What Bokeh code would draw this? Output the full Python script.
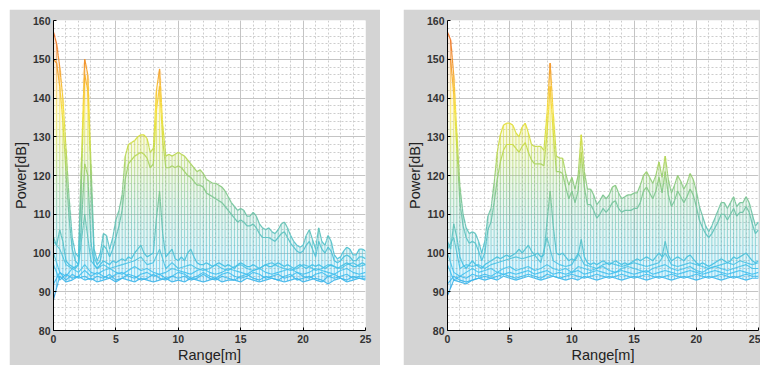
import numpy as np
from bokeh.plotting import figure
from bokeh.layouts import row, column
from bokeh.models import SingleIntervalTicker, Range1d, ColumnDataSource, Spacer
from bokeh.embed import file_html
from bokeh.resources import INLINE

# ---------------- data ----------------
range_fine = np.arange(0, 25.0001, 0.25)    # 101 samples [m]
range_coarse = np.arange(0, 25.0001, 0.5)   # 51 samples [m]

# left panel
p1_top1 = [157, 154, 148, 140, 127, 114, 104, 100, 99, 125,
           150, 146, 123, 101, 98, 100, 105, 104.5, 101, 104,
           108.5, 111, 115, 125, 128, 128.5, 129, 130, 130.5, 130.5,
           129.5, 126, 127, 142, 147.5, 133, 125, 125.5, 125, 125.5,
           126, 125.5, 125, 124, 123, 122, 121, 121.5, 120.5, 119,
           118.5, 118, 118, 117.5, 117, 116, 114.5, 113, 112, 111,
           111.5, 111, 109.5, 109.5, 110.5, 109.5, 107.5, 106.5, 106, 106.5,
           105.5, 105, 106, 107.5, 108, 106.5, 104.5, 103, 102, 101.5,
           102, 104.5, 106, 103.5, 101, 106.5, 103, 102, 104.5, 103,
           99.5, 98.5, 99, 100.5, 101.5, 101, 99.5, 99.5, 101, 101,
           100.5]
p1_top2 = [150, 149, 143, 134, 121, 109, 101, 98, 97, 120,
           146, 142, 119, 99, 97, 98, 102, 101, 99, 101,
           104, 107, 111, 119, 123, 124, 125, 125.5, 126, 125.5,
           124.5, 122, 123, 137, 143, 129, 122, 122, 122.5, 122,
           122.5, 122, 121, 120, 119.5, 118.5, 117.5, 117.5, 117, 115.5,
           115, 114.5, 114, 113.5, 113, 112, 111, 110, 109, 108,
           108.5, 108, 107, 107, 107.5, 106.5, 105, 104, 104, 104,
           103.5, 103, 104, 105, 105.5, 104, 102.5, 101.5, 100.5, 100,
           100.5, 102, 103, 101, 99, 103, 101, 100, 101.5, 100.5,
           98, 97.5, 98, 99, 99.5, 99, 98, 98, 99, 99,
           98.5]
p1_mid = [104, 102, 106, 103, 98, 97, 96.5, 96, 97, 108,
          123, 120, 103, 97, 96, 97, 98, 97.5, 97, 98,
          97.5, 98, 98.5, 98, 99, 98.5, 100, 101, 102, 100,
          99, 99.5, 100, 109, 116, 105, 99, 100, 101, 98.5,
          98, 99, 98, 100, 101, 99, 97.5, 97, 97, 97.5,
          97, 96.5, 97, 97.5, 97, 96.5, 97, 96.5, 96, 97,
          97.5, 97, 96.5, 96.5, 97, 96.5, 96, 96.5, 97, 96.5,
          96.5, 97, 97.5, 97, 96.5, 97, 96.5, 96, 96.5, 97,
          96.5, 96, 96.5, 97, 96.5, 97, 96.5, 96, 96.5, 97,
          96.5, 96, 96.5, 97, 97.5, 97, 96.5, 96.5, 97, 97.5,
          97]
p1_n1 = [103, 101, 97, 96, 97, 110, 98, 96, 97, 96,
         96.5, 97, 97.5, 98, 99, 97, 97.5, 101, 96, 97.5,
         96, 96.5, 97, 96, 95.5, 96, 97, 96, 95.5, 96.5,
         97, 96, 95.5, 96, 97, 97.5, 96.5, 96, 95.5, 96,
         97, 96.5, 95.5, 96, 97, 96.5, 96, 97, 97.5, 96.5,
         97]
p1_n2 = [100, 95, 94, 96, 95, 97, 95, 94.5, 95.5, 96,
         95, 94.5, 95.5, 96.5, 95.5, 96, 95, 94.5, 95, 96,
         95.5, 95, 94.5, 95.5, 96, 95, 94.5, 95, 96, 95.5,
         95, 94.5, 95.5, 96, 95, 94.5, 95, 95.5, 96, 95,
         94.5, 95, 96, 95.5, 95, 94.5, 95.5, 96, 95, 94.5,
         95]
p1_n3 = [97, 93, 94.5, 93.5, 94, 95.5, 94, 95, 94, 93.5,
         94.5, 95, 94, 93.5, 94.5, 95, 94, 94.5, 93.5, 94,
         95, 94.5, 93.5, 94, 95, 94, 93.5, 94.5, 95, 94,
         93.5, 94, 95, 94.5, 93.5, 94, 94.5, 93.5, 94, 95,
         94, 93.5, 94.5, 95, 94, 93.5, 94, 94.5, 93.5, 94,
         94]
p1_n4 = [92, 95, 93, 94.5, 93.5, 94, 93, 94, 93.5, 94.5,
         93, 93.5, 94.5, 94, 93, 93.5, 94.5, 93.5, 93, 94,
         93.5, 94, 93, 93.5, 94.5, 93.5, 93, 94, 93.5, 93,
         94, 94.5, 93.5, 93, 94, 93.5, 93, 94, 94.5, 93,
         93.5, 94, 93, 92.5, 94, 94.5, 93.5, 93, 94, 93.5,
         93.5]
p1_n5 = [88, 94, 92.5, 93, 94, 93, 93.5, 92.5, 93, 93.5,
         92.5, 93.5, 93, 92.5, 93.5, 93, 92.5, 93, 93.5, 92.5,
         93, 92.5, 93.5, 93, 92.5, 93, 93.5, 92.5, 93, 93,
         92.5, 93.5, 93, 92.5, 93, 93.5, 93, 92.5, 93, 93.5,
         92.5, 93, 93.5, 93, 92, 93, 93.5, 92.5, 93, 93.5,
         93]

# right panel
p2_top1 = [157, 155, 146, 131, 117, 110, 106.5, 105, 105.5, 105,
           103, 100, 103, 109.5, 111.5, 118, 126, 130.5, 133, 133.5,
           133.5, 133, 131, 130, 132.5, 133.5, 131, 128, 127.5, 127.5,
           127.5, 126.5, 136, 149, 136, 125, 124.5, 124.5, 120.5, 117.5,
           119.5, 116.5, 120, 130.5, 121, 116.5, 116.5, 115, 112.5, 113.5,
           115, 114, 115, 117, 117.5, 115.5, 114, 114.5, 115, 115,
           115.5, 115.5, 117.5, 120, 121, 119.5, 118, 120, 123.5, 119.5,
           125, 119, 115.5, 117.5, 120, 118.5, 116.5, 118, 120.5, 119,
           116, 112, 109.5, 107, 105.5, 107, 109, 111, 113, 113,
           111.5, 113, 114.5, 112, 113, 113, 114.5, 113, 110, 107,
           108]
p2_top2 = [150, 150, 141, 127, 113, 107, 104, 102.5, 103, 102.5,
           100.5, 98, 100, 106, 108, 113, 119, 123.5, 126.5, 128,
           128, 128, 127, 126, 127.5, 128.5, 126, 124, 123, 123,
           123, 122.5, 131, 143, 131, 121, 121, 120.5, 117, 114,
           116, 113, 116, 126, 117, 112.5, 112.5, 111, 109, 110,
           111.5, 110.5, 111.5, 113, 113.5, 111.5, 110.5, 111, 111, 111,
           111.5, 111.5, 113, 116, 117, 115.5, 114, 116, 119.5, 115.5,
           121, 115, 112, 113.5, 116, 114.5, 113, 114.5, 116.5, 115,
           112, 108.5, 106.5, 105, 104, 105, 106.5, 108, 110, 110,
           108.5, 110, 111.5, 109.5, 110.5, 110.5, 112, 110.5, 107.5, 105,
           106]
p2_mid = [103, 101, 107.5, 104, 99, 97, 96, 97, 98, 97,
          96.5, 96, 97, 97.5, 98, 98.5, 99, 98.5, 99, 99.5,
          99, 99.5, 100, 101, 100, 101, 102, 100.5, 99.5, 100,
          99, 99.5, 108, 116, 107, 100, 99.5, 100, 99, 98,
          98.5, 98, 99.5, 103.5, 99, 97.5, 97, 97.5, 97, 97.5,
          98, 97.5, 97, 97.5, 98, 97.5, 97, 97.5, 97, 97.5,
          98, 98.5, 98, 98.5, 99, 98.5, 98, 99, 100, 99,
          103, 99.5, 98, 98.5, 99, 98.5, 98, 99, 99.5, 98.5,
          97.5, 97, 97.5, 97, 96.5, 97, 97.5, 98, 98.5, 98,
          97.5, 98, 99, 98.5, 99, 99.5, 100, 99, 98, 97.5,
          98]
p2_n1 = [101, 104, 96, 97, 96.5, 97, 96, 97, 97.5, 98,
         98.5, 99, 98.5, 99, 99.5, 97.5, 104, 98, 97, 96.5,
         97, 100, 97, 96.5, 96, 97, 97.5, 97, 96.5, 97,
         97.5, 97, 96.5, 97, 97.5, 100, 97, 96.5, 97, 97.5,
         97, 96.5, 96, 96.5, 97, 97.5, 97, 98, 97.5, 97,
         97.5]
p2_n2 = [100, 95, 94, 95, 96, 95, 95.5, 96, 95, 96,
         96.5, 95.5, 96, 96.5, 95.5, 96, 97, 96, 95.5, 96,
         95, 96.5, 96, 95.5, 96, 96.5, 95.5, 95, 96, 96.5,
         96, 95.5, 95, 96, 96.5, 97, 96, 95.5, 96, 96.5,
         95.5, 95, 96, 96.5, 96, 95.5, 96, 96.5, 97, 96,
         96]
p2_n3 = [97, 93, 94, 93.5, 94.5, 94, 94.5, 94, 95, 94.5,
         95, 94.5, 95, 95.5, 94.5, 95, 95.5, 94.5, 95, 94.5,
         95, 95.5, 94.5, 95, 95.5, 95, 94.5, 95, 95.5, 95,
         94.5, 95, 95.5, 94.5, 95, 95.5, 95, 94.5, 95, 95.5,
         95, 94.5, 95, 95.5, 95, 94.5, 95, 95.5, 95, 94.5,
         95]
p2_n4 = [92, 94, 93, 92.5, 93, 93.5, 94, 93.5, 94, 94.5,
         94, 93.5, 94, 94.5, 94, 93.5, 94.5, 94, 93.5, 94,
         94.5, 94, 93.5, 94, 94.5, 94, 93.5, 94, 94.5, 94,
         93.5, 94, 94.5, 94, 93.5, 94, 94.5, 94, 93.5, 94,
         94.5, 94, 93.5, 94, 94.5, 94, 93.5, 94, 94.5, 94,
         94]
p2_n5 = [89, 93, 92.5, 92, 93, 93.5, 93, 93.5, 93, 94,
         93.5, 93, 93.5, 94, 93.5, 93, 93.5, 94, 93.5, 93,
         93.5, 93, 94, 93.5, 93, 93.5, 94, 93.5, 93, 93.5,
         94, 93.5, 93, 93.5, 94, 93.5, 93, 93.5, 94, 93.5,
         93, 93.5, 94, 93.5, 93, 93.5, 94, 93.5, 93, 93.5,
         93.5]

x_tick_step = 5
y_tick_step = 10
x_label = "Range[m]"
y_label = "Power[dB]"

# ---------------- styling helpers ----------------
ANCHORS = [(86, (30, 110, 195)), (91, (50, 170, 230)), (95, (64, 192, 238)),
           (100, (80, 194, 214)), (106, (98, 194, 186)), (112, (116, 196, 160)),
           (118, (140, 202, 126)), (124, (178, 214, 92)), (130, (214, 222, 62)),
           (137, (246, 224, 60)), (143, (248, 190, 50)), (149, (242, 148, 44)),
           (155, (238, 118, 40)), (162, (228, 90, 32))]
A_V = np.array([a[0] for a in ANCHORS], float)
A_C = np.array([a[1] for a in ANCHORS], float)


def cmap(v):
    r = np.interp(v, A_V, A_C[:, 0])
    g = np.interp(v, A_V, A_C[:, 1])
    b = np.interp(v, A_V, A_C[:, 2])
    return "#%02x%02x%02x" % (int(r), int(g), int(b))


def curve_segments(xs, ys, max_dy=1.5):
    d = dict(x0=[], y0=[], x1=[], y1=[], c=[])
    for i in range(len(xs) - 1):
        xa, xb, ya, yb = xs[i], xs[i + 1], ys[i], ys[i + 1]
        n = max(1, int(np.ceil(abs(yb - ya) / max_dy)))
        for k in range(n):
            t0, t1 = k / n, (k + 1) / n
            y0 = ya + (yb - ya) * t0
            y1 = ya + (yb - ya) * t1
            d["x0"].append(xa + (xb - xa) * t0)
            d["x1"].append(xa + (xb - xa) * t1)
            d["y0"].append(y0)
            d["y1"].append(y1)
            d["c"].append(cmap((y0 + y1) / 2))
    return d


def vertical_segments(xs, lo, hi, step=2.0):
    d = dict(x0=[], y0=[], x1=[], y1=[], c=[])
    for x, a, b in zip(xs, lo, hi):
        if b <= a:
            continue
        edges = [a] + [e for e in np.arange(np.ceil(a / step) * step, b, step) if e > a] + [b]
        for e0, e1 in zip(edges[:-1], edges[1:]):
            d["x0"].append(x); d["x1"].append(x)
            d["y0"].append(e0); d["y1"].append(e1)
            d["c"].append(cmap((e0 + e1) / 2))
    return d


def make_panel(width, left, right, top1, top2, mid, noises):
    for arr in (top1, top2, mid):
        assert len(arr) == len(range_fine), len(arr)
    for arr in noises:
        assert len(arr) == len(range_coarse), len(arr)
    p = figure(width=width, height=356, x_range=Range1d(0, 25), y_range=Range1d(80, 160),
               output_backend="svg", toolbar_location=None,
               min_border_left=left, min_border_right=right,
               min_border_top=11, min_border_bottom=35,
               background_fill_color="white", border_fill_color="#d4d4d4",
               outline_line_color=None)

    xt = SingleIntervalTicker(interval=x_tick_step, num_minor_ticks=5)
    yt = SingleIntervalTicker(interval=y_tick_step, num_minor_ticks=5)
    p.xaxis.ticker = xt
    p.yaxis.ticker = yt
    p.xgrid.ticker = xt
    p.ygrid.ticker = yt
    for g in (p.xgrid, p.ygrid):
        g.grid_line_color = "#c4c4c4"
        g.grid_line_width = 1
        g.minor_grid_line_color = "#cdcdcd"
        g.minor_grid_line_dash = "2 2"

    p.xaxis.axis_label = x_label
    p.yaxis.axis_label = y_label
    for ax in (p.xaxis, p.yaxis):
        ax.axis_line_color = "black"
        ax.major_tick_in = 3
        ax.major_tick_out = 0
        ax.minor_tick_in = 0
        ax.minor_tick_out = 0
        ax.major_tick_line_color = "black"
        ax.major_label_text_font = "Liberation Sans"
        ax.major_label_text_font_size = "10.5px"
        ax.major_label_text_font_style = "bold"
        ax.major_label_text_color = "#333333"
        ax.axis_label_text_font = "Liberation Sans"
        ax.axis_label_text_font_size = "14.5px"
        ax.axis_label_text_font_style = "normal"
        ax.axis_label_text_color = "#222222"
    p.xaxis.major_label_standoff = 4
    p.xaxis.axis_label_standoff = 1
    p.yaxis.major_label_standoff = 3
    p.yaxis.axis_label_standoff = 1

    xs = range_fine
    t1 = np.array(top1, float)
    t2 = np.array(top2, float)
    md = np.array(mid, float)
    nz = [np.array(n, float) for n in noises]
    floor = np.minimum.reduce([md] + [np.interp(xs, range_coarse, n) for n in nz])

    # light tinted fill between the lowest and highest sweep
    for b in np.arange(86, 160, 2.0):
        y1 = np.clip(floor, b, b + 2)
        y2 = np.clip(t1, b, b + 2)
        if np.any(y2 > y1):
            p.varea(x=xs, y1=y1, y2=y2, fill_color=cmap(b + 1), fill_alpha=0.16)

    # vertical connecting lines
    vs = ColumnDataSource(vertical_segments(xs, floor, t1))
    p.segment(x0="x0", y0="y0", x1="x1", y1="y1", line_color="c", line_width=1,
              line_alpha=0.6, source=vs)

    # sweeps
    for n in nz[::-1]:
        s = ColumnDataSource(curve_segments(range_coarse, n))
        p.segment(x0="x0", y0="y0", x1="x1", y1="y1", line_color="c", line_width=1.1,
                  line_alpha=0.9, source=s)
    for arr in (md, t2, t1):
        s = ColumnDataSource(curve_segments(xs, arr))
        p.segment(x0="x0", y0="y0", x1="x1", y1="y1", line_color="c", line_width=1.2,
                  line_alpha=0.95, source=s)
    return p


p1 = make_panel(371, 44, 15, p1_top1, p1_top2, p1_mid, [p1_n1, p1_n2, p1_n3, p1_n4, p1_n5])
p2 = make_panel(357, 44, 2, p2_top1, p2_top2, p2_mid, [p2_n1, p2_n2, p2_n3, p2_n4, p2_n5])

layout = column(Spacer(width=760, height=9),
                row(Spacer(width=9, height=356), p1, Spacer(width=23, height=356), p2,
                    spacing=0),
                spacing=0)
open("out.html", "w").write(file_html(layout, INLINE, title="Range power"))
